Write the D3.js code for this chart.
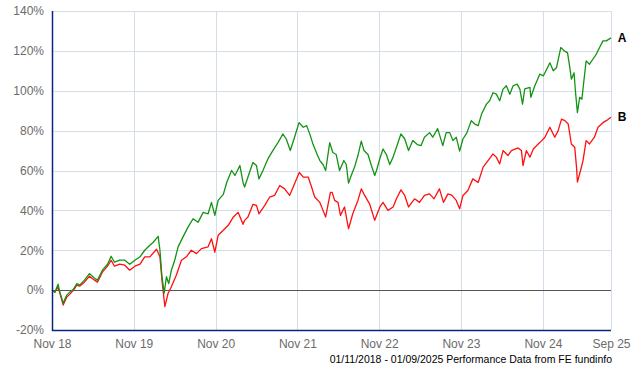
<!DOCTYPE html>
<html>
<head>
<meta charset="utf-8">
<script src="https://cdn.jsdelivr.net/npm/d3@7"></script>
<style>
  body { margin: 0; background: #fff; }
  svg { display: block; font-family: "Liberation Sans", Arial, sans-serif; }
</style>
</head>
<body>
<svg id="chart" width="640" height="370"></svg>
<script>
// series A (green)
const datesA = ["2018-11-01","2018-11-14","2018-11-28","2018-12-06","2018-12-21","2019-01-06","2019-01-20","2019-02-05","2019-02-20","2019-03-04","2019-03-26","2019-04-17","2019-05-10","2019-05-23","2019-06-14","2019-07-07","2019-07-23","2019-08-07","2019-08-30","2019-09-22","2019-10-14","2019-11-06","2019-11-29","2019-12-20","2020-01-12","2020-01-27","2020-02-18","2020-02-26","2020-03-06","2020-03-16","2020-03-26","2020-04-05","2020-04-17","2020-05-02","2020-05-17","2020-06-08","2020-07-01","2020-07-23","2020-08-14","2020-09-06","2020-09-28","2020-10-13","2020-10-28","2020-11-12","2020-12-05","2020-12-20","2021-01-11","2021-01-26","2021-02-17","2021-03-03","2021-03-10","2021-03-25","2021-04-16","2021-05-02","2021-05-13","2021-05-31","2021-06-22","2021-07-14","2021-08-06","2021-08-28","2021-09-12","2021-09-30","2021-10-19","2021-11-08","2021-11-27","2021-12-12","2021-12-27","2022-01-10","2022-01-28","2022-02-09","2022-02-23","2022-03-07","2022-03-25","2022-04-08","2022-04-23","2022-05-08","2022-05-27","2022-06-07","2022-06-17","2022-06-29","2022-07-14","2022-07-29","2022-08-13","2022-08-25","2022-09-12","2022-09-27","2022-10-12","2022-10-20","2022-11-04","2022-11-18","2022-12-03","2022-12-18","2023-01-02","2023-01-17","2023-02-06","2023-02-23","2023-03-12","2023-03-31","2023-04-20","2023-05-07","2023-05-22","2023-06-14","2023-06-28","2023-07-20","2023-08-12","2023-08-27","2023-09-12","2023-09-26","2023-10-11","2023-10-26","2023-11-10","2023-11-28","2023-12-17","2024-01-02","2024-01-17","2024-02-01","2024-02-23","2024-03-08","2024-03-23","2024-04-07","2024-04-22","2024-05-07","2024-05-22","2024-06-06","2024-06-21","2024-07-09","2024-07-21","2024-08-02","2024-08-12","2024-09-04","2024-09-08","2024-09-26","2024-10-18","2024-11-03","2024-11-18","2024-12-02","2024-12-17","2025-01-01","2025-01-20","2025-02-04","2025-02-19","2025-03-01","2025-03-08","2025-03-20","2025-03-26","2025-04-04","2025-04-14","2025-04-24","2025-05-03","2025-05-13","2025-05-28","2025-06-12","2025-06-27","2025-07-12","2025-07-27","2025-08-11","2025-09-01"];
const valuesA = [0,-1,3,-1,-6.5,-2.5,-1,0.5,3.3,2.5,5,8.3,6,5,10,13,17,14,15,15,13,15,16.7,20,22.5,24,27,20,6.7,-1.5,6.7,3.3,10,15,21.7,26.7,31.7,35.8,34,39,38.3,44,37.5,45,48,54,60,57.5,62.5,54,51.7,56.7,64,62.5,55.8,60,65.8,70,74,78.3,75.8,70,76.7,84,81.7,82.5,78,73,68,65,63,60,74,69,68,60,65,63,53.7,57.5,61.7,67.5,74.7,70,68,62.5,57.5,60,66,70.8,68,63,66.7,71.7,78.3,75.8,70,75,73,72.5,76.7,79,76.7,81,72.5,79,79,75,76.7,69.7,75.8,79,85,83.3,82.5,88.3,93.3,95,99,98.3,95,100.8,102.5,98.3,102.5,103.3,100.8,93.3,101,101.7,96.7,102.5,108.3,107.5,110.8,114,110,111.7,121.7,120,119,111.7,105.8,109,100,89,96.7,95.8,105,115,113.3,115.8,118.3,121.7,125,125,126.5];

// series B (red)
const datesB = ["2018-11-01","2018-11-14","2018-11-28","2018-12-06","2018-12-21","2019-01-06","2019-01-20","2019-02-05","2019-02-20","2019-03-04","2019-03-26","2019-04-17","2019-05-10","2019-05-23","2019-06-14","2019-07-07","2019-07-23","2019-08-07","2019-08-30","2019-09-22","2019-10-14","2019-11-06","2019-11-29","2019-12-20","2020-01-12","2020-02-11","2020-02-26","2020-03-06","2020-03-19","2020-04-02","2020-04-17","2020-05-09","2020-06-01","2020-06-23","2020-07-15","2020-08-07","2020-08-29","2020-09-28","2020-10-13","2020-10-28","2020-11-12","2020-12-05","2020-12-27","2021-01-19","2021-02-09","2021-03-03","2021-03-10","2021-03-25","2021-04-16","2021-05-02","2021-05-13","2021-06-08","2021-06-30","2021-07-22","2021-08-14","2021-09-05","2021-09-27","2021-10-19","2021-11-09","2021-11-27","2021-12-19","2022-01-03","2022-01-17","2022-02-09","2022-02-23","2022-03-07","2022-03-28","2022-04-05","2022-04-16","2022-05-01","2022-05-12","2022-05-30","2022-06-17","2022-07-06","2022-07-29","2022-08-13","2022-08-28","2022-09-19","2022-10-12","2022-11-04","2022-11-18","2022-12-10","2023-01-02","2023-01-17","2023-02-06","2023-02-23","2023-03-12","2023-04-08","2023-04-30","2023-05-22","2023-06-14","2023-07-04","2023-07-28","2023-08-15","2023-09-04","2023-09-22","2023-10-11","2023-10-26","2023-11-10","2023-12-02","2023-12-24","2024-01-17","2024-02-08","2024-03-01","2024-03-23","2024-04-07","2024-04-22","2024-05-07","2024-05-29","2024-06-13","2024-07-13","2024-07-28","2024-08-04","2024-08-19","2024-09-04","2024-09-19","2024-10-18","2024-11-10","2024-12-02","2024-12-24","2025-01-08","2025-01-23","2025-02-07","2025-02-22","2025-03-08","2025-03-23","2025-03-31","2025-04-04","2025-04-18","2025-04-29","2025-05-13","2025-05-28","2025-06-19","2025-07-05","2025-07-27","2025-08-11","2025-09-01"];
const valuesB = [0,-1,1.5,-1.5,-7.5,-3.5,-2,0,2.5,2,4,7,5,4,9,12,15,12,13,12.5,10,12,13,16.7,16.7,20.5,16.7,5,-8.3,-1.7,1.7,7.5,15,16.7,20,18.3,20.8,21.7,25.8,19,27.5,30,32.5,36.7,39,33,35,36.7,43,42.5,38.3,42.5,46.7,47.5,52.5,50.8,47.5,53.3,59,56.7,56.7,51.7,46.7,44,40,36.7,49,49,45,44,37.5,41.7,30.8,38.3,45,50.8,47.5,43.3,35,41.7,44,40,41.7,45.8,50.3,47.5,41.7,45.8,44,47.5,48.3,45.8,50.8,44,48.3,47.5,45,40.8,47.5,50,55.8,54,61.7,65,68.3,66.7,63.3,70,67.5,70,71.3,70,62.5,70,66.7,70.8,74,76.7,81.7,76.7,80,85.8,85,83.3,73.3,71.7,61.7,54.2,60,65,75,73.3,76.7,81.7,84,85,86.7];

const tickDates = ["2018-11-01","2019-11-01","2020-11-01","2021-11-01","2022-11-01","2023-11-01","2024-11-01","2025-09-01"];
const tickLabels = ["Nov 18","Nov 19","Nov 20","Nov 21","Nov 22","Nov 23","Nov 24","Sep 25"];
const yTicks = [-20, 0, 20, 40, 60, 80, 100, 120, 140];
const seriesNames = ["A", "B"];
const footer = "01/11/2018 - 01/09/2025 Performance Data from FE fundinfo";

const parse = d3.timeParse("%Y-%m-%d");
const series = [
  { name: seriesNames[0], color: "#139313", data: datesA.map((d, i) => ({ date: parse(d), value: valuesA[i] })) },
  { name: seriesNames[1], color: "#ff1010", data: datesB.map((d, i) => ({ date: parse(d), value: valuesB[i] })) }
];

const margin = { top: 11, right: 29, bottom: 40, left: 52 };
const width = 640, height = 370;

const svg = d3.select("#chart");

const x = d3.scaleTime()
  .domain([parse(tickDates[0]), parse(tickDates[tickDates.length - 1])])
  .range([margin.left, width - margin.right]);

const y = d3.scaleLinear()
  .domain([-20, 140])
  .range([height - margin.bottom, margin.top]);

// grid
svg.append("g")
  .attr("stroke", "#d3dee8")
  .attr("stroke-width", 1)
  .selectAll("line")
  .data(yTicks)
  .join("line")
  .attr("x1", margin.left)
  .attr("x2", width - margin.right)
  .attr("y1", d => Math.round(y(d)) + 0.5)
  .attr("y2", d => Math.round(y(d)) + 0.5);

svg.append("g")
  .attr("stroke", "#d3dee8")
  .attr("stroke-width", 1)
  .selectAll("line")
  .data(tickDates.slice(1))
  .join("line")
  .attr("x1", d => Math.round(x(parse(d))) + 0.5)
  .attr("x2", d => Math.round(x(parse(d))) + 0.5)
  .attr("y1", margin.top)
  .attr("y2", height - margin.bottom);

// zero line
svg.append("line")
  .attr("x1", margin.left)
  .attr("x2", width - margin.right)
  .attr("y1", Math.round(y(0)) + 0.5)
  .attr("y2", Math.round(y(0)) + 0.5)
  .attr("stroke", "#555")
  .attr("stroke-width", 1);

// y labels
const yAxis = d3.axisLeft(y)
  .tickValues(yTicks)
  .tickSize(0)
  .tickPadding(8)
  .tickFormat(d => d + "%");

svg.append("g")
  .attr("transform", `translate(${margin.left},0)`)
  .call(yAxis)
  .call(g => g.select(".domain").remove())
  .call(g => g.selectAll("text")
    .attr("fill", "#6b6b6b")
    .style("font-size", "12px")
    .style("font-family", "Liberation Sans, Arial, sans-serif"));

// x labels
const xAxis = d3.axisBottom(x)
  .tickValues(tickDates.map(parse))
  .tickSize(0)
  .tickPadding(9)
  .tickFormat((d, i) => tickLabels[i]);

svg.append("g")
  .attr("transform", `translate(0,${height - margin.bottom})`)
  .call(xAxis)
  .call(g => g.select(".domain").remove())
  .call(g => g.selectAll("text")
    .attr("fill", "#6b6b6b")
    .style("font-size", "12px")
    .style("font-family", "Liberation Sans, Arial, sans-serif"));

// lines
const line = d3.line()
  .x(d => x(d.date))
  .y(d => y(d.value));

svg.append("g")
  .selectAll("path")
  .data(series.slice().reverse())
  .join("path")
  .attr("fill", "none")
  .attr("stroke", d => d.color)
  .attr("stroke-width", 1.3)
  .attr("stroke-linejoin", "round")
  .attr("d", d => line(d.data));

// axis frame
svg.append("line")
  .attr("x1", margin.left + 0.5)
  .attr("x2", margin.left + 0.5)
  .attr("y1", margin.top)
  .attr("y2", height - margin.bottom + 1)
  .attr("stroke", "#0a2580")
  .attr("stroke-width", 1.5);

svg.append("line")
  .attr("x1", margin.left)
  .attr("x2", width - margin.right)
  .attr("y1", height - margin.bottom + 0.5)
  .attr("y2", height - margin.bottom + 0.5)
  .attr("stroke", "#0a2580")
  .attr("stroke-width", 1.5);

// series labels
svg.append("g")
  .selectAll("text")
  .data(series)
  .join("text")
  .attr("x", width - margin.right + 11)
  .attr("y", d => y(d.data[d.data.length - 1].value))
  .attr("dy", "0.35em")
  .attr("text-anchor", "middle")
  .style("font-size", "12px")
  .style("font-weight", "bold")
  .attr("fill", "#000")
  .text(d => d.name);

// footer
svg.append("text")
  .attr("x", width - margin.right + 1)
  .attr("y", 363)
  .attr("text-anchor", "end")
  .style("font-size", "10.5px")
  .attr("fill", "#000")
  .text(footer);
</script>
</body>
</html>
